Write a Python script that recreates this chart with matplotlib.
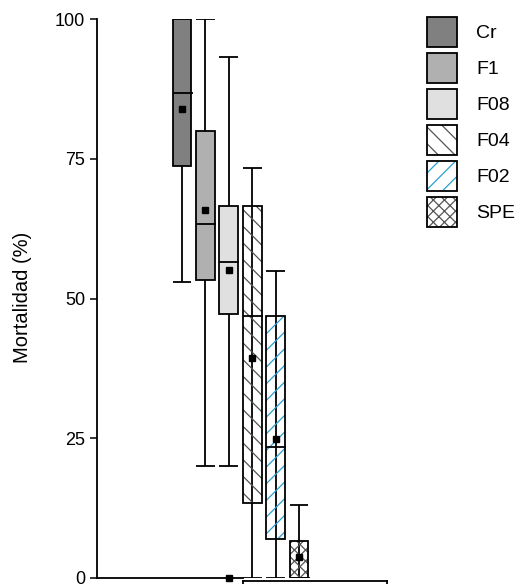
import matplotlib
matplotlib.use("Agg")
import matplotlib.pyplot as plt
from matplotlib.patches import Patch
from matplotlib.legend_handler import HandlerTuple

plt.rcParams['font.family'] = ['Liberation Sans', 'DejaVu Sans']
plt.rcParams['hatch.linewidth'] = 0.9

# datos (mortalidad %)
grupos = ['Cr', 'F1', 'F08', 'F04', 'F02', 'SPE']
q1 = [73.7, 53.3, 47.2, 13.4, 7.0, 0.0]
mediana = [86.8, 63.3, 56.5, 46.9, 23.4, 0.0]
q3 = [100.0, 80.0, 66.5, 66.5, 46.9, 6.6]
bigote_min = [53.0, 20.0, 20.0, 0.0, 0.0, 0.0]
bigote_max = [100.0, 100.0, 93.2, 73.3, 54.9, 13.0]
media = [83.9, 65.8, 55.1, 39.4, 24.9, 3.8]
atipicos = {'F08': [0.0]}

rellenos = ['#808080', '#b0b0b0', '#e0e0e0', 'none', 'none', 'none']
tramas = [None, None, None, '\\\\', '//', 'xxx']
color_trama = [None, None, None, '#555555', '#2a9fd0', '#555555']

fig = plt.figure(figsize=(5.23, 5.84), dpi=100)
ax = fig.add_axes([97 / 523, 6 / 584, (400 - 97) / 523, (578 - 19) / 584])

pos = list(range(1, len(grupos) + 1))
ancho = 0.81
lw = 1.3

# bigotes (linea completa, se ve a traves de las cajas con trama)
ax.vlines(pos, bigote_min, bigote_max, color='black', lw=lw, zorder=1)
ax.hlines(bigote_min, [p - ancho / 2 for p in pos], [p + ancho / 2 for p in pos],
          color='black', lw=lw, zorder=1)
ax.hlines(bigote_max, [p - ancho / 2 for p in pos], [p + ancho / 2 for p in pos],
          color='black', lw=lw, zorder=1)

alturas = [b - a for a, b in zip(q1, q3)]
for i, p in enumerate(pos):
    if tramas[i] is None:
        ax.bar(p, alturas[i], bottom=q1[i], width=ancho, color=rellenos[i],
               edgecolor='black', lw=lw, zorder=2)
    else:
        ax.bar(p, alturas[i], bottom=q1[i], width=ancho, fill=False,
               hatch=tramas[i], edgecolor=color_trama[i], lw=0, zorder=2)
        ax.bar(p, alturas[i], bottom=q1[i], width=ancho, fill=False,
               edgecolor='black', lw=lw, zorder=3)

ax.hlines(mediana, [p - ancho / 2 for p in pos], [p + ancho / 2 + 0.05 for p in pos],
          color='black', lw=lw, zorder=4)
ax.plot(pos, media, 's', color='black', ms=5, zorder=5)
for g, vals in atipicos.items():
    p = pos[grupos.index(g)]
    ax.plot([p] * len(vals), vals, 's', color='black', ms=5, zorder=5, clip_on=False)

ax.set_xlim(1 + (97 - 182) / 23.4, 1 + (400 - 182) / 23.4)
ax.set_ylim(0, 100)
ax.set_yticks([0, 25, 50, 75, 100])
ax.set_xticks([])
ax.tick_params(axis='y', length=5, width=1.1, labelsize=13, pad=3.5)
for s in ['top', 'right']:
    ax.spines[s].set_visible(False)
ax.spines['left'].set_linewidth(1.3)
ax.spines['bottom'].set_linewidth(1.3)
x_corte = 1 + (243 - 182) / 23.4
x_fin = 1 + (387 - 182) / 23.4
ax.spines['bottom'].set_bounds(ax.get_xlim()[0], x_corte)
ax.plot([x_corte, x_fin], [-0.6, -0.6], color='black', lw=1.3, clip_on=False)
ax.plot([x_corte, x_corte], [-0.6, -3], color='black', lw=1.3, clip_on=False)
ax.plot([x_fin, x_fin], [-0.6, -3], color='black', lw=1.3, clip_on=False)

fig.text(23 / 523, 1 - 297 / 584, 'Mortalidad (%)', rotation=90, fontsize=14.5,
         ha='center', va='center')

manijas = []
for i, g in enumerate(grupos):
    if tramas[i] is None:
        manijas.append(Patch(facecolor=rellenos[i], edgecolor='black', lw=lw))
    else:
        fondo = Patch(facecolor='white', edgecolor=color_trama[i], hatch=tramas[i], lw=0)
        borde = Patch(fill=False, edgecolor='black', lw=lw)
        manijas.append((fondo, borde))
fig.legend(handles=manijas, labels=grupos, loc='upper left',
           bbox_to_anchor=(419 / 523, 1 - 9 / 584),
           handler_map={tuple: HandlerTuple(ndivide=1)},
           frameon=False, fontsize=14, handlelength=1.55, handleheight=2.0,
           labelspacing=0.31, handletextpad=1.0, borderaxespad=0)

fig.savefig('out.png', dpi=100)
